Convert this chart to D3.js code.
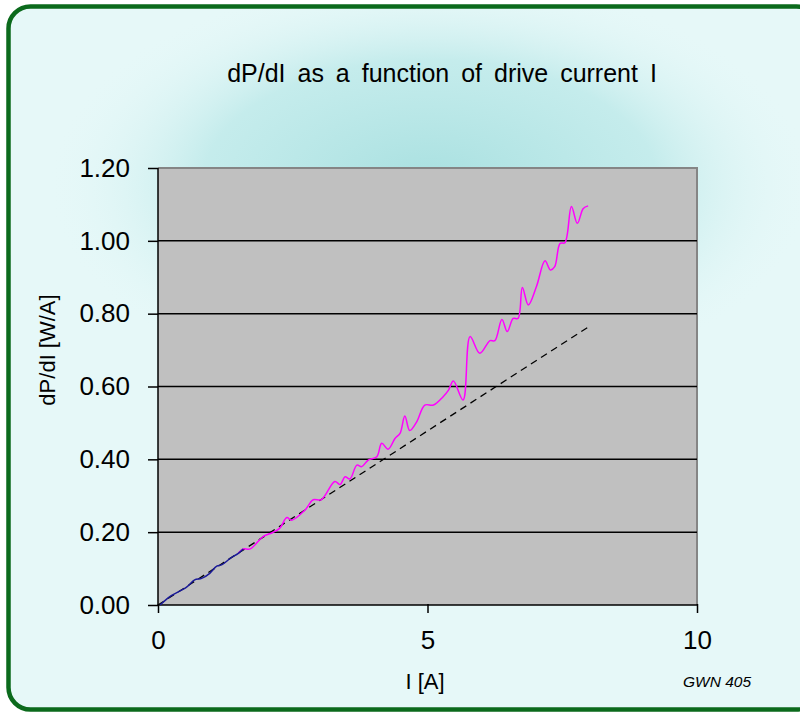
<!DOCTYPE html>
<html><head><meta charset="utf-8">
<script src="https://cdn.jsdelivr.net/npm/d3@7"></script>
<style>html,body{margin:0;padding:0;background:#fff;overflow:hidden}</style>
</head><body>
<svg id="c" width="800" height="713"></svg>
<script>
// ---- data ----
const xTicks = [0, 5, 10];
const yTicks = [0, 0.2, 0.4, 0.6, 0.8, 1.0, 1.2];
// measured dP/dI, low-current part (navy)
const lowI = [0.04, 0.22, 0.53, 0.68, 0.81, 0.96, 1.09, 1.18, 1.34, 1.49, 1.58];
const lowV = [0.000, 0.023, 0.049, 0.069, 0.073, 0.087, 0.107, 0.110, 0.128, 0.142, 0.154];
// measured dP/dI (magenta)
const measI = [1.49, 1.58, 1.71, 1.95, 2.13, 2.26, 2.39, 2.48, 2.73, 2.88, 3.03, 3.28, 3.38, 3.47, 3.56, 3.69, 3.78, 3.90, 4.06, 4.15, 4.27, 4.40, 4.49, 4.58, 4.67, 4.80, 4.95, 5.11, 5.29, 5.39, 5.48, 5.66, 5.79, 5.97, 6.16, 6.25, 6.38, 6.48, 6.59, 6.68, 6.76, 6.87, 7.02, 7.18, 7.28, 7.36, 7.46, 7.55, 7.67, 7.78, 7.89, 7.98];
const measV = [0.142, 0.154, 0.154, 0.188, 0.199, 0.211, 0.240, 0.233, 0.261, 0.289, 0.289, 0.339, 0.331, 0.352, 0.346, 0.384, 0.380, 0.398, 0.407, 0.444, 0.428, 0.458, 0.471, 0.519, 0.479, 0.503, 0.549, 0.549, 0.572, 0.590, 0.615, 0.563, 0.737, 0.691, 0.726, 0.726, 0.784, 0.751, 0.787, 0.787, 0.872, 0.824, 0.874, 0.945, 0.920, 0.929, 0.993, 0.995, 1.094, 1.048, 1.089, 1.096];
// linear reference (dashed)
const linI = [0, 8];
const linV = [0, 0.765];

const svg = d3.select("#c");
const W = 800, H = 713;
const defs = svg.append("defs");
const rg = defs.append("radialGradient").attr("id","glow")
  .attr("gradientUnits","userSpaceOnUse").attr("cx",430).attr("cy",185).attr("r",380)
  .attr("gradientTransform","translate(430,185) scale(1,0.55) translate(-430,-185)");
rg.append("stop").attr("offset","0").attr("stop-color","#a8e0e0").attr("stop-opacity",1);
rg.append("stop").attr("offset","0.6").attr("stop-color","#bfeaea").attr("stop-opacity",0.85);
rg.append("stop").attr("offset","1").attr("stop-color","#e4f7f7").attr("stop-opacity",0);

svg.append("rect").attr("width",W).attr("height",H).attr("fill","#fff");
svg.append("rect").attr("x",8.5).attr("y",6.5).attr("width",810).attr("height",703)
  .attr("rx",22).attr("fill","#e6f8f8");
svg.append("rect").attr("x",8.5).attr("y",6.5).attr("width",810).attr("height",703)
  .attr("rx",22).attr("fill","url(#glow)");

const L = 158, R = 697, T = 168, B = 605;
const x = d3.scaleLinear().domain([0,10]).range([L,R]);
const y = d3.scaleLinear().domain([0,1.2]).range([B,T]);

svg.append("rect").attr("x",L).attr("y",T).attr("width",R-L).attr("height",B-T).attr("fill","#c0c0c0");
// plot border top/right grey
svg.append("path").attr("d",`M${L},${T}H${R}V${B}`).attr("fill","none").attr("stroke","#858585").attr("stroke-width",2);

// gridlines
svg.append("g").selectAll("line").data(yTicks.filter(d=>d>0 && d<1.2)).join("line")
  .attr("x1",L).attr("x2",R).attr("y1",d=>y(d)).attr("y2",d=>y(d))
  .attr("stroke","#000").attr("stroke-width",1.5);

// axes
const font = "'Liberation Sans', Arial, sans-serif";
const gy = svg.append("g").attr("transform",`translate(${L},0)`)
  .call(d3.axisLeft(y).tickValues(yTicks).tickFormat(d3.format(".2f")).tickSize(10).tickPadding(18));
const gx = svg.append("g").attr("transform",`translate(0,${B})`)
  .call(d3.axisBottom(x).tickValues(xTicks).tickFormat(d3.format("d")).tickSize(8).tickPadding(18));
[gy,gx].forEach(g=>{
  g.select(".domain").attr("stroke","#000").attr("stroke-width",1.5);
  g.selectAll(".tick line").attr("stroke","#000").attr("stroke-width",1.5);
  g.selectAll("text").attr("font-family",font).attr("font-size",26).attr("fill","#000");
});
gy.select(".domain").attr("d",`M0,${T}V${B}`);
gx.select(".domain").attr("d",`M${L},0H${R}`);
gx.selectAll(".tick line").attr("y1",-1);

// lines
const line = d3.line().x(d=>x(d[0])).y(d=>y(d[1])).curve(d3.curveCatmullRom.alpha(0.5));
svg.append("path").datum(linI.map((d,i)=>[d,linV[i]])).attr("d",d3.line().x(d=>x(d[0])).y(d=>y(d[1])))
  .attr("fill","none").attr("stroke","#000").attr("stroke-width",1.3).attr("stroke-dasharray","7,5");
svg.append("path").datum(measI.map((d,i)=>[d,measV[i]])).attr("d",line)
  .attr("fill","none").attr("stroke","#ff00ff").attr("stroke-width",1.5);
svg.append("path").datum(lowI.map((d,i)=>[d,lowV[i]])).attr("d",line)
  .attr("fill","none").attr("stroke","#1a1a99").attr("stroke-width",1.5);

// titles
svg.append("text").attr("x",442).attr("y",82).attr("text-anchor","middle")
  .attr("font-family",font).attr("font-size",25).attr("word-spacing",5).text("dP/dI as a function of drive current I");
svg.append("text").attr("x",425).attr("y",689).attr("text-anchor","middle")
  .attr("font-family",font).attr("font-size",22).text("I [A]");
svg.append("text").attr("transform","translate(55,350) rotate(-90)").attr("text-anchor","middle")
  .attr("font-family",font).attr("font-size",22).text("dP/dI [W/A]");
svg.append("text").attr("x",717).attr("y",687).attr("text-anchor","middle")
  .attr("font-family",font).attr("font-size",15.5).attr("font-style","italic").text("GWN 405");

// frame
svg.append("rect").attr("x",8.5).attr("y",6.5).attr("width",810).attr("height",703)
  .attr("rx",22).attr("fill","none").attr("stroke","#0b6a1c").attr("stroke-width",4.5);
</script>
</body></html>
